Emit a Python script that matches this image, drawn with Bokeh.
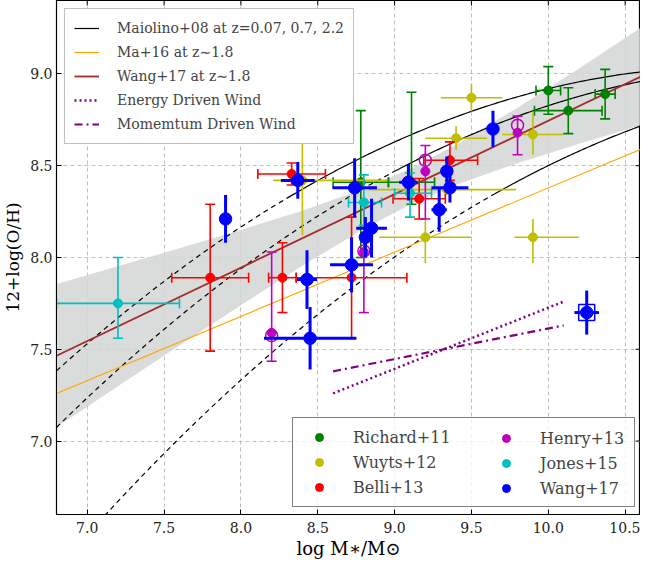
import numpy as np
from bokeh.plotting import figure
from bokeh.models import (Range1d, FixedTicker, Legend, LegendItem, PrintfTickFormatter)
from bokeh.embed import file_html
from bokeh.resources import INLINE

# ---------------- data ----------------
# Maiolino+08 model parameters (z, logM0, K0, start of solid part)
mai_z = [0.07, 0.7, 2.2]
mai_logM0 = [11.18, 11.57, 12.38]
mai_K0 = [9.04, 9.04, 8.99]
mai_solid_from = [8.3, 9.0, 9.65]

# Ma+16 at z~1.8 (end points)
ma16_x = [6.8, 10.6]
ma16_y = [7.259, 8.589]

# Wang+17 fit line and its confidence band
wang_fit_x = [6.8, 10.6]
wang_fit_y = [7.465, 8.985]
band_x = [6.8, 7.2, 7.6, 8.0, 8.4, 8.8, 9.1, 9.4, 9.8, 10.2, 10.6]
band_hi = [7.855, 7.952, 8.050, 8.150, 8.255, 8.374, 8.482, 8.614, 8.816, 9.030, 9.250]
band_lo = [7.075, 7.298, 7.520, 7.740, 7.955, 8.157, 8.288, 8.396, 8.514, 8.620, 8.720]

# wind models
energy_x = [8.6, 10.1]
energy_y = [7.26, 7.76]
momentum_x = [8.6, 10.1]
momentum_y = [7.38, 7.63]

# Richard+11
ric_x = [10.00, 10.13, 10.37, 8.78, 9.11]
ric_y = [8.91, 8.80, 8.89, 8.41, 8.41]
ric_xlo = [0.08, 0.22, 0.065, 0.18, 0.15]
ric_xhi = [0.08, 0.22, 0.065, 0.18, 0.15]
ric_ylo = [0.13, 0.125, 0.135, 0.41, 0.12]
ric_yhi = [0.13, 0.125, 0.135, 0.39, 0.49]

# Wuyts+12
wuy_x = [9.50, 9.40, 9.90, 9.20, 9.90, 8.40, 9.34]
wuy_y = [8.87, 8.65, 8.67, 8.11, 8.11, 8.42, 8.37]
wuy_xlo = [0.20, 0.20, 0.20, 0.30, 0.12, 0.19, 0.51]
wuy_xhi = [0.20, 0.20, 0.20, 0.30, 0.30, 0.55, 0.45]
wuy_ylo = [0.075, 0.065, 0.11, 0.14, 0.14, 0.30, 0.03]
wuy_yhi = [0.075, 0.065, 0.12, 0.10, 0.10, 0.28, 0.03]

# Belli+13
bel_x = [8.33, 7.80, 8.27, 8.72, 9.16, 9.36]
bel_y = [8.455, 7.89, 7.89, 7.89, 8.32, 8.53]
bel_xlo = [0.22, 0.25, 0.09, 0.36, 0.17, 0.17]
bel_xhi = [0.22, 0.25, 0.09, 0.36, 0.17, 0.18]
bel_ylo = [0.06, 0.40, 0.19, 0.33, 0.11, 0.11]
bel_yhi = [0.06, 0.40, 0.19, 0.33, 0.11, 0.10]

# Henry+13 (filled and open circles)
hen_x = [8.20, 8.80, 9.20, 9.80]
hen_y = [7.59, 8.03, 8.47, 8.68]
hen_ylo = [0.155, 0.33, 0.26, 0.12]
hen_yhi = [0.44, 0.27, 0.14, 0.09]
hen_open_x = [8.20, 8.80, 9.20, 9.80]
hen_open_y = [7.575, 8.035, 8.53, 8.72]

# Jones+15
jon_x = [7.20, 8.80, 9.10]
jon_y = [7.75, 8.30, 8.35]
jon_xlo = [0.40, 0.10, 0.10]
jon_xhi = [0.40, 0.115, 0.14]
jon_ylo = [0.19, 0.125, 0.13]
jon_yhi = [0.25, 0.15, 0.11]

# Wang+17
wan_x = [7.90, 8.37, 8.43, 8.45, 8.72, 8.74, 8.81, 8.85, 9.09, 9.29, 9.34, 9.36, 9.64, 10.25]
wan_y = [8.21, 8.42, 7.88, 7.56, 7.96, 8.38, 8.11, 8.16, 8.41, 8.26, 8.47, 8.38, 8.70, 7.70]
wan_xerr = [0.0, 0.11, 0.065, 0.30, 0.14, 0.145, 0.0, 0.10, 0.06, 0.05, 0.0, 0.12, 0.0, 0.08]
wan_yerr = [0.13, 0.10, 0.16, 0.17, 0.15, 0.16, 0.11, 0.16, 0.10, 0.12, 0.08, 0.08, 0.10, 0.12]
wan_sq_x = [10.25]
wan_sq_y = [7.70]

# ticks
x_tick_vals = [7.0, 7.5, 8.0, 8.5, 9.0, 9.5, 10.0, 10.5]
y_tick_vals = [7.0, 7.5, 8.0, 8.5, 9.0]

X_MIN, X_MAX, Y_MIN, Y_MAX = 6.8, 10.6, 6.6, 9.4
FONT = "DejaVu Serif"

# ---------------- figure ----------------
p = figure(width=640, height=561,
           x_range=Range1d(X_MIN, X_MAX), y_range=Range1d(Y_MIN, Y_MAX),
           output_backend="svg", toolbar_location=None,
           min_border_left=50, min_border_right=0, min_border_top=0, min_border_bottom=41)
p.outline_line_color = "black"
p.outline_line_width = 1.2
p.background_fill_color = "white"

xt = FixedTicker(ticks=x_tick_vals)
yt = FixedTicker(ticks=y_tick_vals)
for ax, t in ((p.xaxis[0], xt), (p.yaxis[0], yt)):
    ax.ticker = t
    ax.formatter = PrintfTickFormatter(format="%.1f")
    ax.major_tick_in = 5
    ax.major_tick_out = 0
    ax.minor_tick_line_color = None
    ax.major_tick_line_color = "black"
    ax.axis_line_color = "black"
    ax.major_label_text_font = FONT
    ax.major_label_text_font_size = "14px"
    ax.major_label_text_color = "#222222"
    ax.major_label_text_line_height = 1.0
    ax.axis_label_text_font = FONT
    ax.axis_label_text_font_style = "normal"
    ax.axis_label_text_color = "black"
    ax.axis_label_text_line_height = 1.0
p.xaxis[0].major_label_standoff = 7
p.yaxis[0].major_label_standoff = 4
p.xaxis[0].axis_label = "log M\u2217/M\u2299"
p.xaxis[0].axis_label_text_font_size = "18px"
p.xaxis[0].axis_label_standoff = 2
p.yaxis[0].axis_label = "12+log(O/H)"
p.yaxis[0].axis_label_text_font_size = "17px"
p.yaxis[0].axis_label_standoff = 4

for g, t in ((p.xgrid[0], xt), (p.ygrid[0], yt)):
    g.ticker = t
    g.grid_line_color = "#b8b8b8"
    g.grid_line_dash = "4 3"
    g.grid_line_width = 0.9

# mirrored inward ticks on top and right edges
p.scatter(x=x_tick_vals, y=[Y_MAX] * len(x_tick_vals), marker="dash", angle=np.pi / 2,
          size=10, line_color="black", line_width=1)
p.scatter(x=[X_MAX] * len(y_tick_vals), y=y_tick_vals, marker="dash",
          size=10, line_color="black", line_width=1)

# band + model lines
p.varea(x=band_x, y1=band_lo, y2=band_hi, fill_color="#d4d5d5", fill_alpha=0.85)

mai_solid_r = None
for M0, K0, xs0 in zip(mai_logM0, mai_K0, mai_solid_from):
    xd = np.linspace(X_MIN, xs0, 120)
    xs = np.linspace(xs0, X_MAX, 120)
    yd = K0 - 0.0864 * (xd - M0) ** 2
    ys = K0 - 0.0864 * (xs - M0) ** 2
    p.line(xd, yd, line_color="black", line_width=1.2, line_dash="5 4")
    r = p.line(xs, ys, line_color="black", line_width=1.2)
    if mai_solid_r is None:
        mai_solid_r = r

ma_r = p.line(ma16_x, ma16_y, line_color="orange", line_width=1.1)
wang_r = p.line(wang_fit_x, wang_fit_y, line_color="#a52a2a", line_width=1.8)
en_r = p.line(energy_x, energy_y, line_color="#800080", line_width=2.5, line_dash="2 3")
mo_r = p.line(momentum_x, momentum_y, line_color="#800080", line_width=2.2, line_dash="8 4 2 4")


def errbars(x, y, xlo, xhi, ylo, yhi, color, lw, cap):
    x = np.array(x); y = np.array(y)
    xlo = np.array(xlo); xhi = np.array(xhi); ylo = np.array(ylo); yhi = np.array(yhi)
    p.segment(x0=x, y0=y - ylo, x1=x, y1=y + yhi, line_color=color, line_width=lw)
    m = (xlo + xhi) > 0
    if m.any():
        p.segment(x0=(x - xlo)[m], y0=y[m], x1=(x + xhi)[m], y1=y[m], line_color=color, line_width=lw)
    if cap:
        p.scatter(x=np.concatenate([x, x]), y=np.concatenate([y - ylo, y + yhi]), marker="dash",
                  size=cap, line_color=color, line_width=lw)
        if m.any():
            p.scatter(x=np.concatenate([(x - xlo)[m], (x + xhi)[m]]), y=np.concatenate([y[m], y[m]]),
                      marker="dash", size=cap, angle=np.pi / 2, line_color=color, line_width=lw)


C_G, C_Y, C_R, C_M, C_C, C_B = "#008000", "#bfbf00", "#ff0000", "#bf00bf", "#00bfbf", "#0000ff"

errbars(ric_x, ric_y, ric_xlo, ric_xhi, ric_ylo, ric_yhi, C_G, 1.6, 10)
ric_r = p.scatter(ric_x, ric_y, size=9, fill_color=C_G, line_color=C_G)

errbars(wuy_x, wuy_y, wuy_xlo, wuy_xhi, wuy_ylo, wuy_yhi, C_Y, 1.6, 0)
wuy_r = p.scatter(wuy_x, wuy_y, size=9, fill_color=C_Y, line_color=C_Y)

errbars(bel_x, bel_y, bel_xlo, bel_xhi, bel_ylo, bel_yhi, C_R, 1.6, 10)
bel_r = p.scatter(bel_x, bel_y, size=9, fill_color=C_R, line_color=C_R)

zeros = [0.0] * len(hen_x)
errbars(hen_x, hen_y, zeros, zeros, hen_ylo, hen_yhi, C_M, 1.6, 10)
hen_r = p.scatter(hen_x, hen_y, size=9, fill_color=C_M, line_color=C_M)
p.scatter(hen_open_x, hen_open_y, size=12, fill_color=None, line_color=C_M, line_width=1.5)

errbars(jon_x, jon_y, jon_xlo, jon_xhi, jon_ylo, jon_yhi, C_C, 1.6, 10)
jon_r = p.scatter(jon_x, jon_y, size=9, fill_color=C_C, line_color=C_C)

errbars(wan_x, wan_y, wan_xerr, wan_xerr, wan_yerr, wan_yerr, C_B, 3.0, 0)
wan_r = p.scatter(wan_x, wan_y, size=12.5, fill_color=C_B, line_color=C_B)
p.scatter(wan_sq_x, wan_sq_y, marker="square", size=16, fill_color=None, line_color=C_B, line_width=1.5)

# legends
leg1 = Legend(items=[
    LegendItem(label="Maiolino+08 at z=0.07, 0.7, 2.2", renderers=[mai_solid_r]),
    LegendItem(label="Ma+16 at z\u223c1.8", renderers=[ma_r]),
    LegendItem(label="Wang+17 at z\u223c1.8", renderers=[wang_r]),
    LegendItem(label="Energy Driven Wind", renderers=[en_r]),
    LegendItem(label="Momemtum Driven Wind", renderers=[mo_r]),
], location="top_left", margin=8, padding=9, spacing=4, glyph_width=25, glyph_height=20,
    label_standoff=18, label_text_font=FONT, label_text_font_size="14px",
    border_line_color="#808080", border_line_width=1, background_fill_alpha=1.0)

common = dict(padding=9, spacing=5, glyph_width=34, glyph_height=20, label_standoff=17,
              label_width=272, label_text_font=FONT, label_text_font_size="16px",
              border_line_color="#808080", border_line_width=1, background_fill_color="white")
leg2a = Legend(items=[
    LegendItem(label="Richard+11", renderers=[ric_r]),
    LegendItem(label="Wuyts+12", renderers=[wuy_r]),
    LegendItem(label="Belli+13", renderers=[bel_r]),
], location=(236, 7), background_fill_alpha=0.8, border_line_alpha=1.0, **common)
leg2b = Legend(items=[
    LegendItem(label="Henry+13", renderers=[hen_r]),
    LegendItem(label="Jones+15", renderers=[jon_r]),
    LegendItem(label="Wang+17", renderers=[wan_r]),
], location=(424, 7), background_fill_alpha=0.0, border_line_alpha=0.0, **common)

p.add_layout(leg1, "center")
p.add_layout(leg2a, "center")
p.add_layout(leg2b, "center")

open("out.html", "w").write(file_html(p, INLINE))
